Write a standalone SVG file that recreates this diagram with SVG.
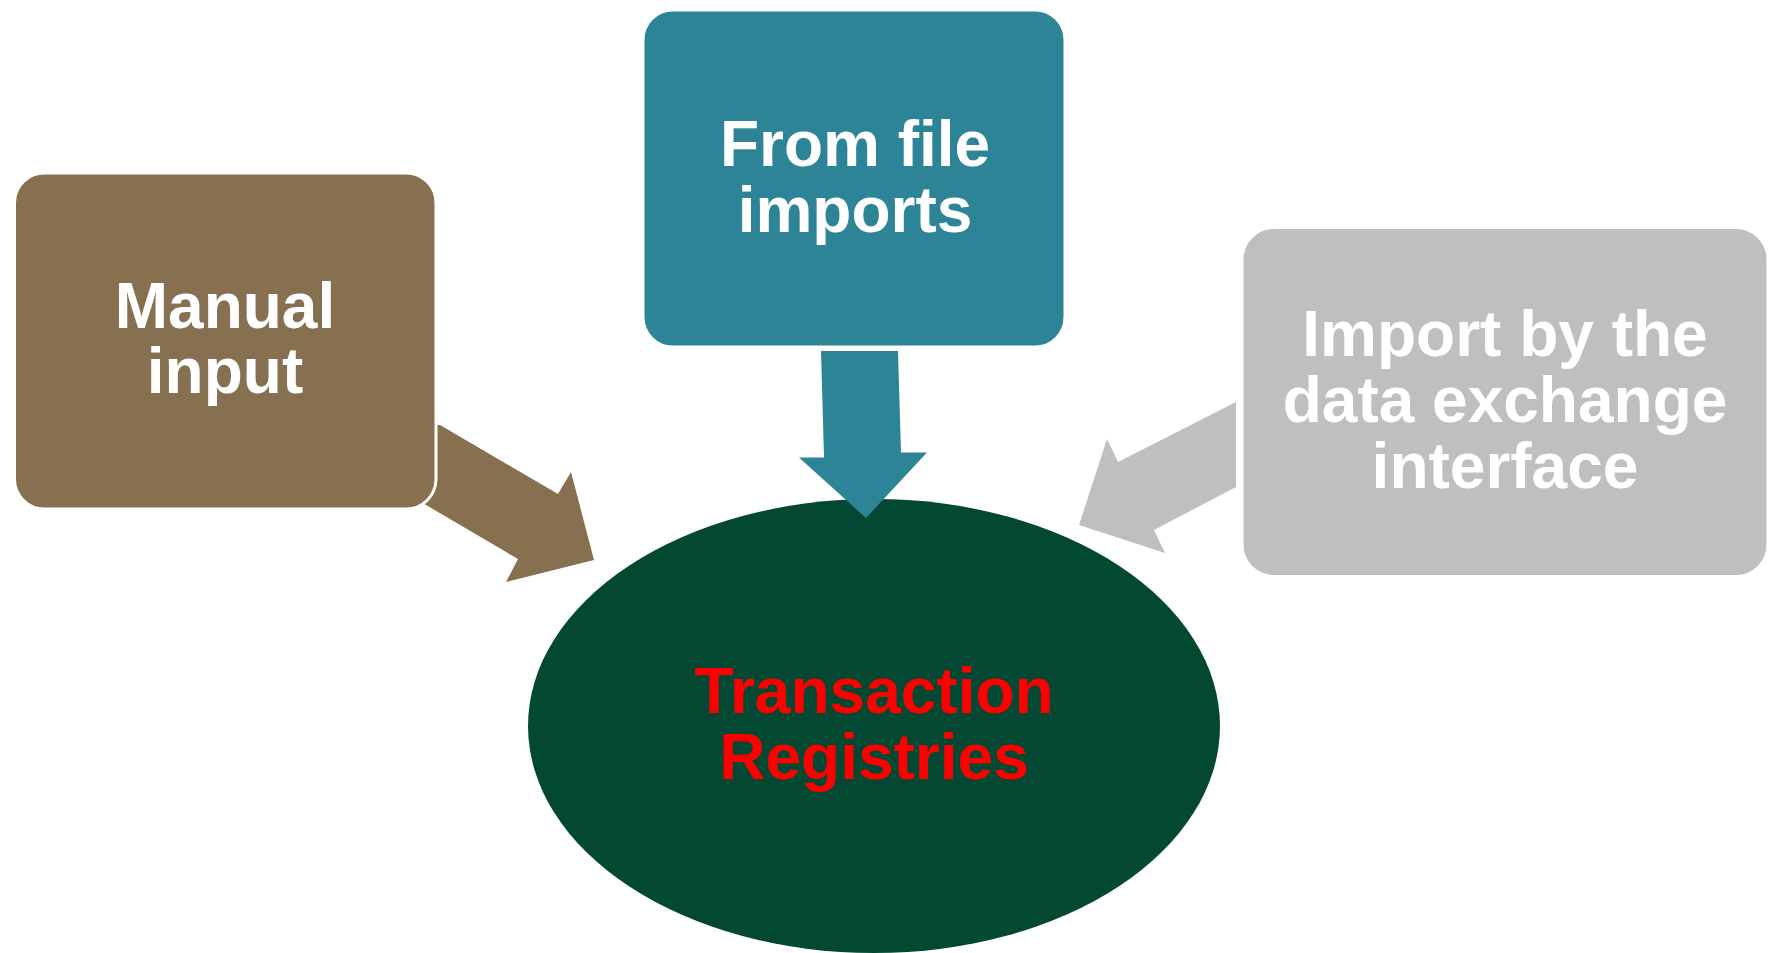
<svg xmlns="http://www.w3.org/2000/svg" width="1775" height="953" viewBox="0 0 1775 953">
<style>
.lbl{font-family:"Liberation Sans",Arial,sans-serif;font-weight:bold;font-size:64px;text-anchor:middle;fill:#FFFFFF}
.red{fill:#FF0000}
.box{stroke:#FFFFFF;stroke-width:3}
</style>
<rect width="1775" height="953" fill="#FFFFFF"/>
<g id="registries">
<ellipse cx="874" cy="726" rx="346" ry="227" fill="#034833"/>
<text class="lbl red" x="874" y="713">Transaction</text>
<text class="lbl red" x="874" y="779">Registries</text>
</g>
<g id="connectors">
<polygon id="arrow-manual" fill="#86704F" points="440,425 558,494 571,472 594,560 506,582 518,559 415,498.5 415,425"/>
<polygon id="arrow-file" fill="#2E8497" points="821,351 898,351 901,452.5 927,452.5 866,518 799,457.5 824,457.5"/>
<polygon id="arrow-exchange" fill="#BFBFBF" points="1236,402 1118,462 1107,439 1079,525 1165,553 1154,530 1236,487"/>
</g>
<g id="manual">
<rect class="box" x="14.5" y="173" width="421.5" height="336" rx="30" ry="30" fill="#86704F"/>
<text class="lbl" x="225" y="328">Manual</text>
<text class="lbl" x="225" y="393">input</text>
</g>
<g id="file">
<rect class="box" x="643" y="10" width="422" height="337" rx="30" ry="30" fill="#2E8497"/>
<text class="lbl" x="855" y="166">From file</text>
<text class="lbl" x="855" y="232">imports</text>
</g>
<g id="exchange">
<rect class="box" x="1242" y="227.5" width="526" height="349" rx="32" ry="32" fill="#BFBFBF"/>
<text class="lbl" x="1505" y="356">Import by the</text>
<text class="lbl" x="1505" y="422">data exchange</text>
<text class="lbl" x="1505" y="488">interface</text>
</g>
</svg>
